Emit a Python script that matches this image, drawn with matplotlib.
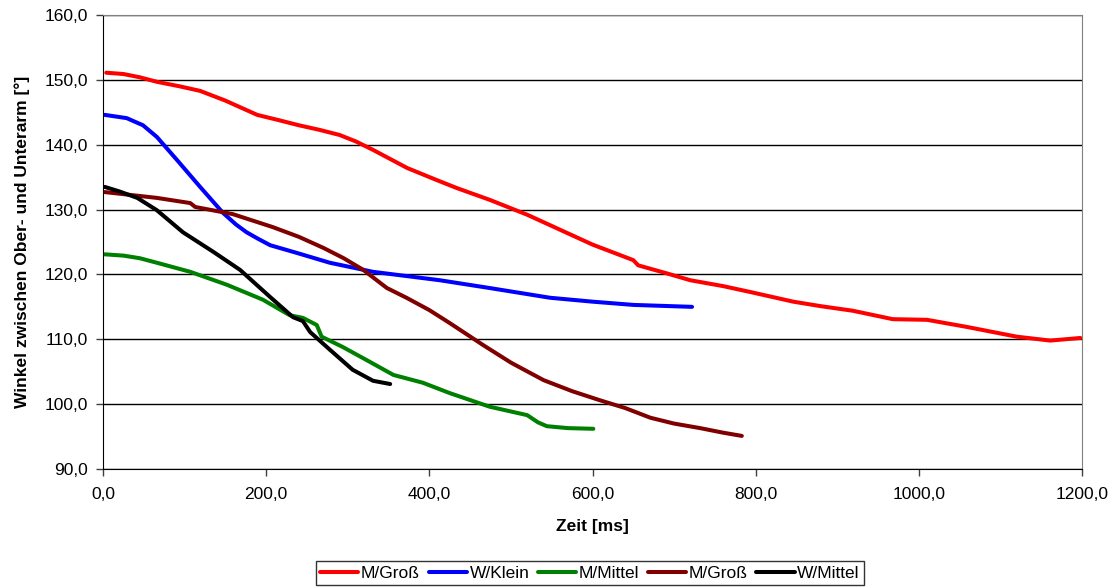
import matplotlib.pyplot as plt
from matplotlib.ticker import FuncFormatter, MultipleLocator

plt.rcParams['font.family'] = ['Liberation Sans', 'DejaVu Sans']

# M/Groß (rot)
t_red = [4, 25, 45, 66, 94, 119, 150, 189, 215, 240, 265, 290, 310, 331, 373, 410, 434, 474, 520, 560, 600, 650, 656, 690, 720, 760, 793, 846, 880, 919, 968, 1010, 1059, 1120, 1161, 1198]
v_red = [151.1, 150.9, 150.4, 149.7, 149.0, 148.3, 146.8, 144.6, 143.8, 143.0, 142.3, 141.5, 140.5, 139.2, 136.4, 134.5, 133.3, 131.5, 129.2, 126.9, 124.6, 122.2, 121.4, 120.2, 119.1, 118.2, 117.3, 115.8, 115.1, 114.4, 113.1, 113.0, 111.9, 110.4, 109.8, 110.2]

# W/Klein (blau)
t_blue = [2, 29, 49, 66, 91, 119, 147, 163, 176, 190, 205, 238, 278, 331, 413, 474, 548, 600, 650, 722]
v_blue = [144.6, 144.1, 143.0, 141.2, 137.6, 133.5, 129.5, 127.7, 126.5, 125.5, 124.5, 123.3, 121.8, 120.4, 119.1, 117.9, 116.4, 115.8, 115.3, 115.0]

# M/Mittel (grün)
t_green = [2, 25, 45, 66, 107, 152, 196, 229, 245, 262, 268, 294, 323, 356, 392, 425, 474, 520, 533, 544, 570, 601]
v_green = [123.1, 122.9, 122.5, 121.8, 120.4, 118.4, 116.1, 113.7, 113.3, 112.2, 110.4, 108.8, 106.8, 104.5, 103.3, 101.7, 99.6, 98.3, 97.2, 96.6, 96.3, 96.2]

# M/Groß (dunkelrot)
t_brown = [2, 66, 107, 113, 159, 208, 240, 270, 295, 319, 348, 372, 400, 425, 466, 500, 540, 575, 609, 640, 671, 700, 732, 760, 783]
v_brown = [132.7, 131.8, 131.0, 130.4, 129.3, 127.3, 125.8, 124.1, 122.5, 120.7, 117.9, 116.4, 114.5, 112.5, 109.1, 106.4, 103.7, 102.0, 100.6, 99.4, 97.9, 97.0, 96.3, 95.6, 95.1]

# W/Mittel (schwarz)
t_black = [2, 20, 42, 66, 98, 135, 168, 205, 233, 245, 254, 278, 306, 331, 352]
v_black = [133.5, 132.8, 131.8, 129.9, 126.5, 123.5, 120.7, 116.5, 113.4, 112.8, 111.1, 108.4, 105.3, 103.6, 103.1]

labels = ['M/Groß', 'W/Klein', 'M/Mittel', 'M/Groß', 'W/Mittel']
colors = ['#ff0000', '#0000ff', '#008000', '#800000', '#000000']

fig = plt.figure(figsize=(11.17, 5.88), dpi=100)
ax = fig.add_axes([0.0922, 0.2024, 0.8765, 0.7721])

series = [(t_red, v_red), (t_blue, v_blue), (t_green, v_green), (t_brown, v_brown), (t_black, v_black)]
for (t, v), lab, c in zip(series, labels, colors):
    ax.plot(t, v, color=c, lw=2.9, label=lab, solid_capstyle='round', solid_joinstyle='round')

ax.set_xlim(0, 1200)
ax.set_ylim(90, 160)
ax.xaxis.set_major_locator(MultipleLocator(200))
ax.yaxis.set_major_locator(MultipleLocator(10))
fmt = FuncFormatter(lambda v, p: f"{v:.1f}".replace('.', ','))
ax.xaxis.set_major_formatter(fmt)
ax.yaxis.set_major_formatter(fmt)
ax.tick_params(labelsize=12.5, length=5, width=1, direction='out', color='#404040')
ax.tick_params(axis='x', pad=8)
ax.tick_params(axis='y', pad=6)
ax.grid(axis='y', color='black', lw=1)
ax.set_axisbelow(True)

for s in ['top', 'right']:
    ax.spines[s].set_color('#808080')
for s in ['left', 'bottom']:
    ax.spines[s].set_color('black')

ax.set_xlabel('Zeit [ms]', fontsize=12.5, fontweight='bold', labelpad=12)
ax.set_ylabel('Winkel zwischen Ober- und Unterarm [°]', fontsize=12.5, fontweight='bold', labelpad=10)
ax.yaxis.set_label_coords(-0.075, 0.5)

leg = fig.legend(loc='center', bbox_to_anchor=(590 / 1117, 1 - 573 / 588), ncol=5,
                 fontsize=12.5, frameon=True, fancybox=False, handlelength=2.2,
                 columnspacing=0.5, handletextpad=0.15, borderpad=0.25)
leg.get_frame().set_edgecolor('black')
leg.get_frame().set_linewidth(1)

fig.savefig('out.png', dpi=100)
